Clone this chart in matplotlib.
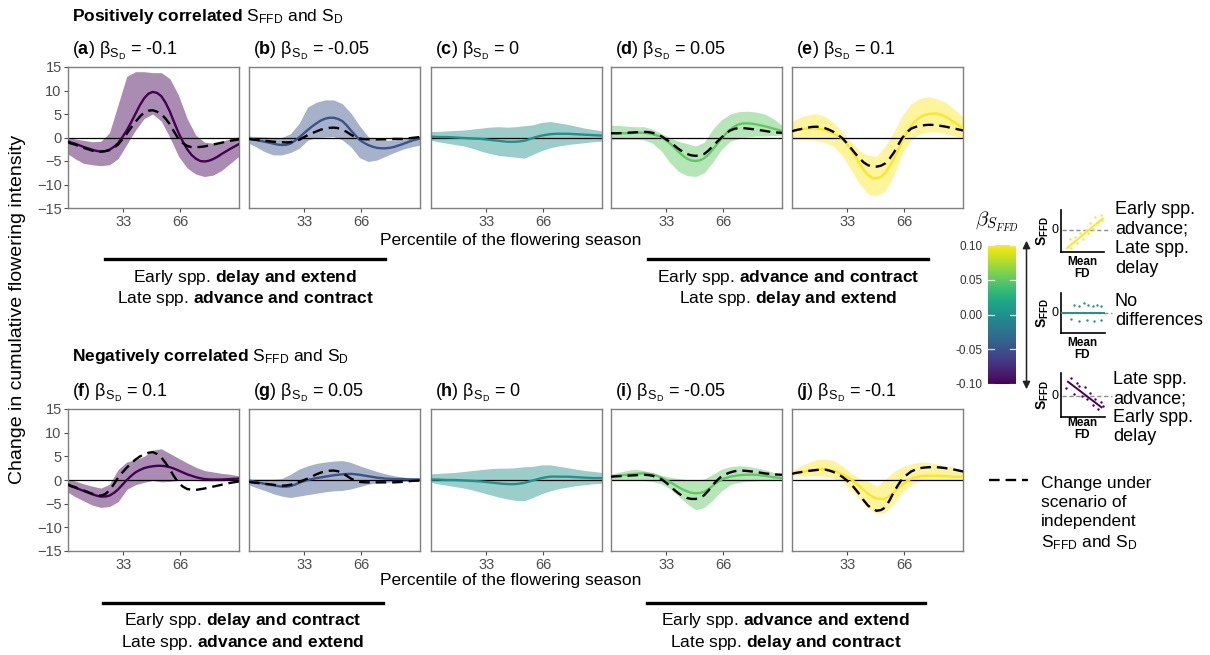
import numpy as np
import matplotlib as mpl
mpl.use("Agg")
import matplotlib.pyplot as plt
from matplotlib.colors import Normalize
from matplotlib.cm import ScalarMappable
from matplotlib.lines import Line2D
from matplotlib.patches import FancyArrowPatch

plt.rcParams['font.family'] = ['Liberation Sans', 'DejaVu Sans']
plt.rcParams['mathtext.fontset'] = 'custom'
plt.rcParams['mathtext.rm'] = 'Liberation Sans'
plt.rcParams['mathtext.it'] = 'Liberation Sans:italic'
plt.rcParams['mathtext.bf'] = 'Liberation Sans:bold'
plt.rcParams['axes.unicode_minus'] = True

# ---------------------------------------------------------------- data
# percentile positions for the curves (fine) and for the ribbons (coarse)
PCT_LINE = [1, 2.5, 5, 7.5, 10, 12.5, 15, 17.5, 20, 22.5, 25, 27.5, 30, 32.5, 35, 37.5, 40,
            42.5, 45, 47.5, 50, 52.5, 55, 57.5, 60, 62.5, 65, 67.5, 70, 72.5, 75, 77.5, 80,
            82.5, 85, 87.5, 90, 92.5, 95, 97.5, 100]
PCT = [1, 5, 10, 15, 20, 25, 30, 35, 40, 45, 50, 55, 60, 65, 70, 75, 80, 85, 90, 95, 100]

# Positively correlated S_FFD and S_D
a_mean = [-0.8, -1.05, -1.3, -1.65, -2.0, -2.3, -2.6, -2.85, -3.0, -2.9, -2.6, -2.0, -1.2, 0.1, 1.5,
          3.2, 5.0, 6.8, 8.3, 9.3, 9.7, 9.5, 8.8, 7.4, 5.5, 3.2, 1.0, -0.9, -2.5, -3.7, -4.5,
          -5.0, -5.1, -4.95, -4.6, -4.1, -3.5, -2.95, -2.4, -1.9, -1.4]
a_indep = [-1.0, -1.25, -1.5, -1.85, -2.2, -2.5, -2.8, -2.95, -3.0, -2.9, -2.7, -2.2, -1.5, -0.4, 0.8,
           2.1, 3.3, 4.4, 5.3, 5.7, 5.8, 5.5, 5.0, 4.0, 2.8, 1.2, -0.3, -1.2, -1.8, -2.05, -2.1,
           -2.0, -1.9, -1.7, -1.5, -1.3, -1.1, -0.9, -0.7, -0.55, -0.4]
a_lo = [-3.5, -4.5, -5.5, -5.8, -6.0, -5.8, -4.5, -1.5, 1.5, 4.0, 5.0, 3.5, 0.0, -4.0, -6.5, -7.8, -8.3, -8.0, -7.0, -5.5, -4.0]
a_hi = [0.0, -0.3, -0.6, -0.9, -0.8, 1.0, 7.0, 13.0, 14.0, 14.0, 13.8, 13.8, 12.5, 9.0, 4.0, 0.5, -1.0, -1.2, -0.8, -0.3, 0.2]

b_mean = [-0.2, -0.35, -0.5, -0.7, -0.9, -1.1, -1.3, -1.5, -1.6, -1.55, -1.3, -0.7, 0.0, 0.8, 1.6,
          2.35, 3.0, 3.6, 4.0, 4.2, 4.2, 3.95, 3.5, 2.6, 1.5, 0.5, -0.5, -1.1, -1.6, -1.95, -2.2,
          -2.3, -2.3, -2.2, -2.0, -1.7, -1.4, -1.05, -0.7, -0.45, -0.2]
b_indep = [-0.3, -0.4, -0.5, -0.6, -0.7, -0.8, -0.9, -0.95, -1.0, -1.05, -1.0, -0.8, -0.5, 0.0, 0.5,
           0.9, 1.3, 1.65, 1.9, 2.05, 2.1, 2.0, 1.7, 1.2, 0.6, 0.1, -0.2, -0.35, -0.4, -0.4, -0.4,
           -0.4, -0.4, -0.35, -0.3, -0.3, -0.3, -0.2, -0.1, 0.0, 0.1]
b_lo = [-1.2, -2.0, -3.0, -3.7, -3.7, -3.2, -2.3, -0.6, 0.0, 0.1, 0.2, -0.5, -2.0, -4.3, -5.1, -4.8, -4.0, -3.2, -2.5, -2.0, -1.6]
b_hi = [0.3, 0.2, 0.1, 0.0, 0.0, 0.8, 3.0, 6.5, 7.5, 8.0, 8.0, 7.2, 5.2, 2.5, 0.2, -0.5, -0.6, -0.5, -0.3, 0.0, 0.3]

c_mean = [0.2, 0.15, 0.1, 0.1, 0.1, 0.05, 0.0, -0.05, -0.1, -0.15, -0.2, -0.25, -0.3, -0.4, -0.5,
          -0.6, -0.7, -0.8, -0.9, -0.93, -0.9, -0.82, -0.7, -0.42, -0.1, 0.17, 0.4, 0.57, 0.7,
          0.77, 0.8, 0.8, 0.8, 0.75, 0.7, 0.65, 0.6, 0.55, 0.5, 0.45, 0.4]
c_lo = [-0.6, -0.9, -1.2, -1.5, -1.8, -2.3, -2.9, -3.4, -3.8, -4.0, -4.2, -4.4, -3.6, -2.8, -2.2, -1.8, -1.5, -1.3, -1.1, -0.9, -0.8]
c_hi = [1.3, 1.3, 1.4, 1.5, 1.6, 1.8, 2.0, 2.2, 2.3, 2.2, 2.3, 2.5, 2.7, 3.2, 3.4, 3.1, 2.8, 2.4, 2.0, 1.7, 1.4]

d_mean = [0.9, 0.9, 0.9, 0.9, 0.9, 0.95, 1.0, 1.02, 1.0, 0.9, 0.7, 0.45, 0.1, -0.5, -1.2, -2.1,
          -3.0, -3.85, -4.5, -4.9, -5.0, -4.85, -4.4, -3.6, -2.5, -1.35, -0.2, 0.8, 1.7, 2.35,
          2.8, 3.0, 3.0, 2.95, 2.8, 2.6, 2.4, 2.15, 1.9, 1.65, 1.4]
d_indep = [0.9, 0.9, 0.9, 0.95, 1.0, 1.05, 1.1, 1.17, 1.2, 1.15, 1.0, 0.7, 0.3, -0.3, -0.9, -1.65,
           -2.4, -3.0, -3.5, -3.8, -3.9, -3.8, -3.5, -2.75, -1.8, -0.9, 0.0, 0.85, 1.5, 1.85,
           2.0, 2.0, 1.9, 1.8, 1.7, 1.55, 1.4, 1.25, 1.1, 1.05, 1.0]
d_lo = [-0.5, -0.4, -0.4, -0.4, -0.5, -1.2, -2.8, -5.3, -7.2, -8.1, -8.3, -7.5, -5.2, -2.5, -0.8, -0.2, 0.1, 0.3, 0.3, 0.4, 0.5]
d_hi = [2.6, 2.6, 2.4, 2.3, 2.3, 1.8, 0.9, 0.0, -0.8, -1.3, -1.8, -1.0, 1.8, 3.8, 5.0, 5.5, 5.6, 5.4, 5.0, 4.0, 2.6]

e_mean = [1.3, 1.5, 1.7, 1.82, 1.9, 1.93, 1.9, 1.8, 1.6, 1.25, 0.8, 0.35, -0.2, -1.25, -2.5, -4.0,
          -5.5, -6.9, -8.0, -8.6, -8.7, -8.35, -7.5, -6.15, -4.5, -2.55, -0.6, 1.1, 2.5, 3.5,
          4.3, 4.75, 5.0, 5.1, 5.1, 4.8, 4.4, 3.85, 3.2, 2.6, 2.0]
e_indep = [1.3, 1.5, 1.7, 1.9, 2.1, 2.25, 2.3, 2.2, 2.0, 1.65, 1.2, 0.6, -0.1, -1.1, -2.2, -3.35,
           -4.4, -5.3, -5.9, -6.15, -6.2, -6.0, -5.5, -4.5, -3.2, -1.55, 0.0, 1.1, 1.9, 2.25,
           2.5, 2.62, 2.7, 2.68, 2.6, 2.45, 2.3, 2.1, 1.9, 1.7, 1.5]
e_lo = [-0.5, -0.5, -0.5, -0.6, -1.0, -1.8, -3.8, -6.8, -9.8, -12.0, -12.4, -11.3, -8.0, -3.2, -0.5, 0.8, 1.2, 1.2, 0.8, 0.3, -0.2]
e_hi = [3.4, 4.2, 4.8, 5.1, 4.5, 3.2, 1.2, -0.8, -2.8, -3.8, -4.0, -1.8, 1.2, 4.8, 7.2, 8.3, 8.7, 8.2, 7.5, 6.0, 4.4]

# Negatively correlated S_FFD and S_D
f_mean = [-1.0, -1.3, -1.6, -1.95, -2.3, -2.65, -3.0, -3.3, -3.5, -3.5, -3.3, -2.75, -2.0, -1.0, 0.0,
          0.85, 1.6, 2.1, 2.5, 2.75, 2.9, 3.0, 3.0, 2.9, 2.7, 2.4, 2.0, 1.6, 1.2, 0.9, 0.6,
          0.38, 0.2, 0.13, 0.1, 0.1, 0.1, 0.15, 0.2, 0.25, 0.3]
f_indep = [-0.9, -1.2, -1.5, -1.85, -2.2, -2.55, -2.9, -3.15, -3.3, -3.0, -2.2, -0.9, 0.5, 1.6, 2.6,
           3.5, 4.3, 4.95, 5.4, 5.75, 5.9, 5.5, 4.8, 3.6, 2.2, 0.7, -0.6, -1.4, -1.9, -2.05,
           -2.1, -1.95, -1.8, -1.6, -1.4, -1.2, -1.0, -0.8, -0.6, -0.45, -0.3]
f_lo = [-2.6, -3.5, -4.4, -5.3, -5.8, -5.6, -4.6, -2.0, -1.0, -0.5, -0.1, -0.4, -0.3, -0.1, -0.1, -0.1, -0.2, -0.2, -0.2, -0.1, -0.1]
f_hi = [0.2, -0.2, -0.8, -1.3, -1.7, -0.9, 2.2, 3.8, 4.3, 5.0, 6.3, 6.6, 5.6, 4.6, 3.6, 2.7, 2.0, 1.7, 1.4, 1.2, 0.9]

g_mean = [-0.1, -0.25, -0.4, -0.6, -0.8, -0.95, -1.1, -1.28, -1.4, -1.42, -1.3, -1.0, -0.6, -0.28,
          0.0, 0.2, 0.4, 0.55, 0.7, 0.85, 1.0, 1.1, 1.2, 1.27, 1.3, 1.22, 1.1, 0.95, 0.8, 0.65,
          0.5, 0.4, 0.3, 0.25, 0.2, 0.2, 0.2, 0.15, 0.1, 0.1, 0.1]
g_indep = [-0.4, -0.5, -0.6, -0.7, -0.8, -0.9, -1.0, -1.12, -1.2, -1.15, -1.0, -0.75, -0.4, -0.05,
           0.3, 0.75, 1.2, 1.55, 1.8, 1.95, 2.0, 1.85, 1.5, 0.9, 0.3, -0.1, -0.4, -0.48, -0.5,
           -0.5, -0.5, -0.5, -0.5, -0.5, -0.5, -0.45, -0.4, -0.3, -0.2, -0.15, -0.1]
g_lo = [-1.0, -1.6, -2.2, -2.9, -3.4, -3.7, -3.4, -3.1, -2.8, -2.5, -2.3, -2.2, -1.9, -1.4, -0.9, -0.6, -0.5, -0.4, -0.3, -0.3, -0.3]
g_hi = [0.2, 0.2, 0.2, 0.2, 0.3, 1.2, 2.3, 3.0, 3.5, 3.8, 4.0, 4.1, 3.7, 3.0, 2.4, 1.8, 1.3, 0.9, 0.6, 0.5, 0.4]

h_mean = [0.1, 0.1, 0.1, 0.05, 0.0, 0.0, 0.0, -0.05, -0.1, -0.15, -0.2, -0.25, -0.3, -0.4, -0.5,
          -0.6, -0.7, -0.8, -0.85, -0.88, -0.85, -0.75, -0.6, -0.35, -0.1, 0.15, 0.4, 0.57, 0.7,
          0.72, 0.7, 0.7, 0.7, 0.65, 0.6, 0.55, 0.5, 0.45, 0.4, 0.4, 0.4]
h_lo = [-0.5, -0.8, -1.1, -1.4, -1.7, -2.1, -2.6, -3.1, -3.6, -4.0, -4.3, -4.4, -3.7, -2.9, -2.3, -1.8, -1.5, -1.2, -1.0, -0.8, -0.7]
h_hi = [1.3, 1.4, 1.5, 1.6, 1.8, 2.0, 2.2, 2.4, 2.5, 2.5, 2.6, 2.8, 2.9, 3.2, 3.2, 2.9, 2.6, 2.3, 2.0, 1.8, 1.6]

i_mean = [0.7, 0.8, 0.9, 1.0, 1.1, 1.2, 1.3, 1.37, 1.4, 1.33, 1.2, 0.9, 0.5, 0.05, -0.4, -0.95,
          -1.5, -2.0, -2.4, -2.7, -2.8, -2.75, -2.5, -1.9, -1.2, -0.5, 0.1, 0.45, 0.7, 0.87, 1.0,
          1.07, 1.1, 1.12, 1.1, 1.0, 0.9, 0.75, 0.6, 0.5, 0.4]
i_indep = [0.7, 0.75, 0.8, 0.85, 0.9, 0.95, 1.0, 1.07, 1.1, 1.05, 0.9, 0.6, 0.2, -0.45, -1.2, -2.05,
           -2.8, -3.4, -3.8, -4.0, -4.0, -3.7, -3.2, -2.2, -1.0, -0.05, 0.8, 1.25, 1.6, 1.85,
           2.0, 1.98, 1.9, 1.8, 1.7, 1.55, 1.4, 1.3, 1.2, 1.15, 1.1]
i_lo = [-0.1, 0.0, 0.0, 0.0, -0.1, -0.3, -0.8, -1.8, -3.4, -5.0, -6.3, -5.8, -4.2, -2.3, -1.0, -0.5, -0.3, -0.2, -0.1, -0.1, -0.1]
i_hi = [1.2, 1.6, 2.0, 2.3, 2.0, 1.5, 1.0, 0.6, 0.3, 0.1, -0.1, 0.2, 1.2, 2.3, 2.8, 3.0, 2.9, 2.6, 2.2, 1.6, 0.9]

j_mean = [1.3, 1.45, 1.6, 1.75, 1.9, 2.05, 2.2, 2.28, 2.3, 2.2, 2.0, 1.65, 1.2, 0.7, 0.2, -0.5,
          -1.3, -2.1, -2.9, -3.5, -3.9, -4.0, -3.9, -3.35, -2.6, -1.7, -0.9, -0.25, 0.3, 0.6,
          0.8, 0.87, 0.9, 0.9, 0.9, 0.85, 0.8, 0.75, 0.7, 0.7, 0.7]
j_indep = [1.3, 1.45, 1.6, 1.75, 1.9, 2.0, 2.1, 2.18, 2.2, 2.0, 1.7, 1.25, 0.7, 0.0, -0.8, -1.85,
           -3.0, -4.3, -5.4, -6.1, -6.5, -6.35, -5.8, -4.3, -2.5, -1.0, 0.3, 1.1, 1.8, 2.2, 2.5,
           2.62, 2.7, 2.72, 2.7, 2.62, 2.5, 2.35, 2.2, 2.0, 1.8]
j_lo = [0.9, 0.9, 0.9, 0.9, 0.8, 0.4, -0.4, -2.0, -4.0, -6.0, -7.1, -6.8, -5.0, -2.6, -0.9, -0.2, 0.0, 0.0, 0.0, 0.0, 0.0]
j_hi = [2.0, 2.8, 3.6, 4.3, 4.4, 4.1, 3.0, 1.4, 0.4, -0.2, -1.4, 0.2, 1.8, 2.8, 3.4, 3.8, 3.7, 3.4, 3.0, 2.5, 2.0]

TOP_LETTERS = ['a', 'b', 'c', 'd', 'e']
TOP_BETA_SD = ['-0.1', '-0.05', '0', '0.05', '0.1']
BOTTOM_LETTERS = ['f', 'g', 'h', 'i', 'j']
BOTTOM_BETA_SD = ['0.1', '0.05', '0', '-0.05', '-0.1']
BETA_SFFD = [-0.1, -0.05, 0.0, 0.05, 0.1]

X_TICKS = [33, 66]
Y_TICKS = [-15, -10, -5, 0, 5, 10, 15]
CB_TICKS = [-0.10, -0.05, 0.00, 0.05, 0.10]
CB_LABELS = ['-0.10', '-0.05', '0.00', '0.05', '0.10']

# schematic inset points (Mean FD vs S_FFD), unit coordinates
POS_DOT_X = [0.20, 0.24, 0.32, 0.38, 0.45, 0.50, 0.57, 0.62, 0.68, 0.74, 0.80, 0.86, 0.92, 0.95]
POS_DOT_Y = [0.30, 0.10, 0.36, 0.22, 0.45, 0.30, 0.53, 0.45, 0.70, 0.55, 0.84, 0.68, 0.88, 0.76]
POS_LINE = ([0.14, 0.97], [0.09, 0.80])
FLAT_DOT_X = [0.30, 0.42, 0.52, 0.62, 0.72, 0.82, 0.92, 0.22, 0.40, 0.58, 0.76, 0.92]
FLAT_DOT_Y = [0.70, 0.68, 0.74, 0.70, 0.67, 0.70, 0.68, 0.36, 0.30, 0.32, 0.31, 0.33]
FLAT_LINE = ([0.02, 1.0], [0.51, 0.51])
NEG_DOT_X = [0.12, 0.22, 0.30, 0.36, 0.42, 0.48, 0.55, 0.60, 0.66, 0.72, 0.78, 0.84, 0.90, 0.95]
NEG_DOT_Y = [0.65, 0.88, 0.52, 0.78, 0.70, 0.48, 0.68, 0.40, 0.55, 0.28, 0.40, 0.18, 0.33, 0.25]
NEG_LINE = ([0.16, 0.92], [0.80, 0.22])

# ---------------------------------------------------------------- layout helpers
W, H = 1210, 655
fig = plt.figure(figsize=(W / 100, H / 100), dpi=100)
cmap = plt.get_cmap('viridis')
norm = Normalize(vmin=-0.1, vmax=0.1)


def fx(x):
    return x / W


def fy(y):
    return 1 - y / H


def px_axes(x0, y0, x1, y1):
    return fig.add_axes([fx(x0), fy(y1), (x1 - x0) / W, (y1 - y0) / H])


DASH = (0, (4.5, 2.5))
SPINE_GREY = '#7f7f7f'
TICK_GREY = '#4d4d4d'

PANEL_X = [68, 249, 431, 611, 792]
PANEL_W = 171
ROWS = [(67, 208), (409, 551)]

top_data = [(a_mean, a_indep, a_lo, a_hi), (b_mean, b_indep, b_lo, b_hi),
            (c_mean, None, c_lo, c_hi), (d_mean, d_indep, d_lo, d_hi),
            (e_mean, e_indep, e_lo, e_hi)]
bottom_data = [(f_mean, f_indep, f_lo, f_hi), (g_mean, g_indep, g_lo, g_hi),
               (h_mean, None, h_lo, h_hi), (i_mean, i_indep, i_lo, i_hi),
               (j_mean, j_indep, j_lo, j_hi)]


def draw_panel(ax, letter, sd_label, beta, series, first):
    mean, indep, lo, hi = series
    col = cmap(norm(beta))
    ax.fill_between(PCT, lo, hi, color=col, alpha=0.45, lw=0, zorder=1)
    ax.axhline(0, color='black', lw=0.9, zorder=2)
    ax.plot(PCT_LINE, mean, color=col, lw=1.7, zorder=3)
    if indep is not None:
        ax.plot(PCT_LINE, indep, color='black', lw=1.7, ls=DASH, zorder=4)
    ax.set_xlim(1, 100)
    ax.set_ylim(-15, 15)
    ax.set_xticks(X_TICKS)
    ax.set_xticklabels([str(t) for t in X_TICKS])
    ax.tick_params(axis='x', length=3, width=0.8, color=TICK_GREY,
                   labelcolor=TICK_GREY, labelsize=10.5, pad=2)
    if first:
        ax.set_yticks(Y_TICKS)
        ax.tick_params(axis='y', length=3, width=0.8, color=TICK_GREY,
                       labelcolor=TICK_GREY, labelsize=10.5, pad=1.5)
    else:
        ax.set_yticks([])
    for sp in ax.spines.values():
        sp.set_color(SPINE_GREY)
        sp.set_linewidth(1.0)
    title = (r"($\mathbf{" + letter + r"}$) β$_{\mathrm{S}_{\mathrm{D}}}$ = " + sd_label)
    ax.text(0.022, 1 + 12 / 141, title, transform=ax.transAxes, fontsize=13,
            ha='left', va='baseline')


for row, (letters, sds, data) in enumerate([(TOP_LETTERS, TOP_BETA_SD, top_data),
                                             (BOTTOM_LETTERS, BOTTOM_BETA_SD, bottom_data)]):
    y0, y1 = ROWS[row]
    for k in range(5):
        ax = px_axes(PANEL_X[k], y0, PANEL_X[k] + PANEL_W, y1)
        draw_panel(ax, letters[k], sds[k], BETA_SFFD[k], data[k], k == 0)

# ---------------------------------------------------------------- figure-level text
fig.text(fx(72), fy(17), r"$\mathbf{Positively\ correlated}$ S$_{\mathrm{FFD}}$ and S$_{\mathrm{D}}$",
         fontsize=12.5, ha='left', va='center')
fig.text(fx(72), fy(357), r"$\mathbf{Negatively\ correlated}$ S$_{\mathrm{FFD}}$ and S$_{\mathrm{D}}$",
         fontsize=12.5, ha='left', va='center')

fig.text(fx(18), fy(309), "Change in cumulative flowering intensity", rotation=90,
         fontsize=14, ha='center', va='center')
for yy in (241, 581):
    fig.text(fx(511), fy(yy), "Percentile of the flowering season",
             fontsize=12.5, ha='center', va='center')

summary = [
    ((105, 385, 259), 245, (277, 298), (r"Early spp. $\mathbf{delay\ and\ extend}$",
                                         r"Late spp. $\mathbf{advance\ and\ contract}$")),
    ((648, 928, 259), 788, (277, 298), (r"Early spp. $\mathbf{advance\ and\ contract}$",
                                         r"Late spp. $\mathbf{delay\ and\ extend}$")),
    ((103, 383, 603), 243, (621, 643), (r"Early spp. $\mathbf{delay\ and\ contract}$",
                                         r"Late spp. $\mathbf{advance\ and\ extend}$")),
    ((647, 925, 603), 786, (621, 643), (r"Early spp. $\mathbf{advance\ and\ extend}$",
                                         r"Late spp. $\mathbf{delay\ and\ contract}$")),
]
for (x0, x1, yl), xc, (yt1, yt2), (t1, t2) in summary:
    fig.add_artist(Line2D([fx(x0), fx(x1)], [fy(yl), fy(yl)], transform=fig.transFigure,
                          color='black', lw=2.4))
    fig.text(fx(xc), fy(yt1), t1, fontsize=12.5, ha='center', va='center')
    fig.text(fx(xc), fy(yt2), t2, fontsize=12.5, ha='center', va='center')

# ---------------------------------------------------------------- colour bar
cax = px_axes(988, 245, 1016, 384)
cb = fig.colorbar(ScalarMappable(norm=norm, cmap=cmap), cax=cax)
cb.outline.set_visible(False)
cb.set_ticks(CB_TICKS)
cb.set_ticklabels(CB_LABELS)
cax.yaxis.set_ticks_position('left')
cax.tick_params(length=0, labelsize=8.5, pad=4, labelcolor='#333333')
for v in CB_TICKS:
    cax.plot([0, 0.2], [v, v], color='white', lw=0.9, alpha=0.8)
    cax.plot([0.8, 1.0], [v, v], color='white', lw=0.9, alpha=0.8)
fig.text(fx(997), fy(222), r"$\beta_{S_{FFD}}$", math_fontfamily='cm', fontsize=15,
         ha='center', va='center')

fig.add_artist(FancyArrowPatch((fx(1026.5), fy(238)), (fx(1026.5), fy(392)),
                               transform=fig.transFigure, arrowstyle='<|-|>',
                               mutation_scale=11, color='#222222', lw=1.1))


# ---------------------------------------------------------------- schematic insets
def inset(box, dots_x, dots_y, line, beta, zero_y, mean_fd_y):
    x0, y0, x1, y1 = box
    ax = px_axes(x0, y0, x1, y1)
    col = cmap(norm(beta))
    ax.set_xlim(0, 1)
    ax.set_ylim(0, 1)
    ax.set_xticks([])
    ax.set_yticks([])
    ax.patch.set_alpha(0)
    for side in ('top', 'right'):
        ax.spines[side].set_visible(False)
    for side in ('left', 'bottom'):
        ax.spines[side].set_color('black')
        ax.spines[side].set_linewidth(1.2)
    ax.plot([0.02, 1.16], [zero_y, zero_y], color='#8c8c8c', lw=1.0, ls=(0, (3, 2)),
            clip_on=False)
    ax.scatter(dots_x, dots_y, s=3, color=col, lw=0, zorder=3)
    ax.plot(line[0], line[1], color=col, lw=1.4, zorder=4)
    ax.text(-0.06, zero_y, "0", fontsize=9, ha='right', va='center')
    ax.text(-0.42, 0.5, r"$\mathbf{S}_{\mathbf{FFD}}$", rotation=90, fontsize=10,
            ha='center', va='center')
    fig.text(fx(1082), fy(mean_fd_y), "Mean\nFD", fontsize=8.5, fontweight='bold',
             ha='center', va='center', linespacing=1.05)


inset((1061, 210, 1104, 252), POS_DOT_X, POS_DOT_Y, POS_LINE, 0.1, 0.52, 268)
inset((1061, 293, 1105, 333), FLAT_DOT_X, FLAT_DOT_Y, FLAT_LINE, 0.0, 0.51, 349)
inset((1061, 373, 1105, 417), NEG_DOT_X, NEG_DOT_Y, NEG_LINE, -0.1, 0.48, 429)

fig.text(fx(1115), fy(239), "Early spp.\nadvance;\nLate spp.\ndelay", fontsize=13,
         ha='left', va='center', linespacing=1.2)
fig.text(fx(1115), fy(311), "No\ndifferences", fontsize=13,
         ha='left', va='center', linespacing=1.1)
fig.text(fx(1113), fy(408), "Late spp.\nadvance;\nEarly spp.\ndelay", fontsize=13,
         ha='left', va='center', linespacing=1.15)

# ---------------------------------------------------------------- dashed-line key
fig.add_artist(Line2D([fx(989), fx(1028)], [fy(480), fy(480)], transform=fig.transFigure,
                      color='black', lw=1.7, ls=DASH))
fig.text(fx(1041), fy(514),
         "Change under\nscenario of\nindependent\n" + r"S$_{\mathrm{FFD}}$ and S$_{\mathrm{D}}$",
         fontsize=12.5, ha='left', va='center', linespacing=1.3)

fig.savefig("out.png", dpi=100)
